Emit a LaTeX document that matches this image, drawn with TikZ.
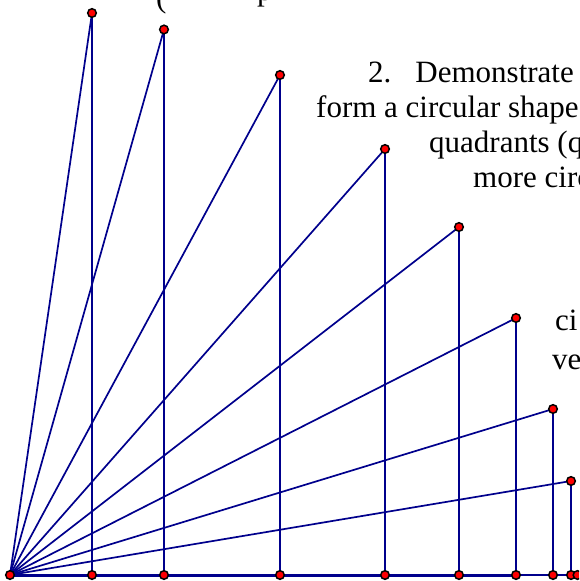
\documentclass[tikz,border=0pt]{standalone}
\usepackage{fontspec}
\setmainfont{Liberation Serif}
\definecolor{navyline}{RGB}{0,0,140}
\definecolor{dotred}{RGB}{255,0,0}
\tikzset{
  seg/.style={draw=navyline, line width=1.7pt},
  base/.style={draw=navyline, line width=3pt},
  basethin/.style={draw=navyline, line width=2pt},
  dot/.style={circle, fill=dotred, draw=black, line width=1.5pt, minimum size=8.6pt, inner sep=0pt},
  txt/.style={anchor=base west, inner sep=0pt, font=\fontsize{31}{37}\selectfont, text=black}
}
\begin{document}
\begin{tikzpicture}[x=1pt,y=-1pt]
\useasboundingbox (0,0) rectangle (579,581);
\clip (0,0) rectangle (579,581);
% text
\node[txt] (tpar) at (156,7.5) {(};
\node[txt] (tp) at (257,0) {p};
\node[txt] (l1) at (368,82) {2.\hspace{24pt}Demonstrate};
\node[txt] (l2) at (316,117) {form a circular shape.};
\node[txt] (l3) at (429,152) {quadrants (q};
\node[txt] (l4) at (473,187) {more circ};
\node[txt] (l5) at (555,330) {ci};
\node[txt] (l6) at (552,369) {ve};
% points
\coordinate (O) at (10,575);
\coordinate (P1) at (92,13);
\coordinate (P2) at (164,29.5);
\coordinate (P3) at (280,75);
\coordinate (P4) at (385,149);
\coordinate (P5) at (459,227);
\coordinate (P6) at (516,318);
\coordinate (P7) at (553,409);
\coordinate (P8) at (571,481);
\coordinate (F1) at (92,575);
\coordinate (F2) at (164,575);
\coordinate (F3) at (280,575);
\coordinate (F4) at (385,575);
\coordinate (F5) at (459,575);
\coordinate (F6) at (516,575);
\coordinate (F7) at (553,575);
\coordinate (F8) at (571,575);
\coordinate (E) at (577.5,575);
% radii and verticals
\foreach \i in {1,...,8} {
  \draw[seg] (O) -- (P\i);
  \draw[seg] (P\i) -- (F\i);
}
% baseline
\draw[base] (O) -- (F6);
\draw[basethin] (F6) -- (E);
% dots
\foreach \n in {O,P1,P2,P3,P4,P5,P6,P7,P8,F1,F2,F3,F4,F5,F6,F7,F8,E} {
  \node[dot] (d\n) at (\n) {};
}
\end{tikzpicture}
\end{document}
